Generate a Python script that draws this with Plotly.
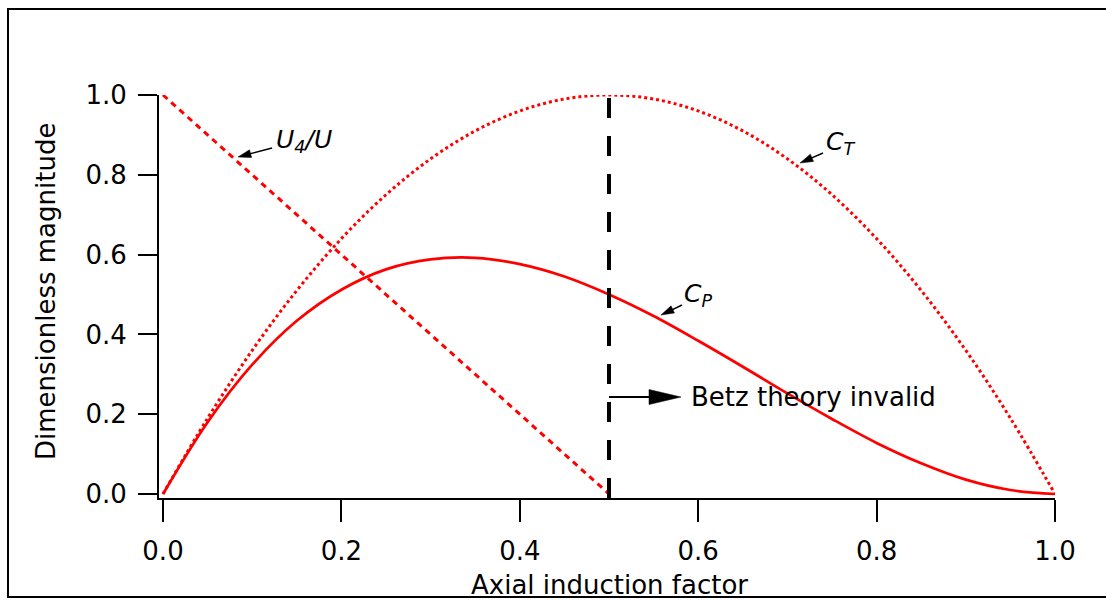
import math
import plotly.graph_objects as go

# ---- data ----
induction_a = [0.0, 0.05, 0.10, 0.15, 0.20, 0.25, 0.30, 0.35, 0.40, 0.45, 0.50,
               0.55, 0.60, 0.65, 0.70, 0.75, 0.80, 0.85, 0.90, 0.95, 1.0]
cp_values = [0.0, 0.18, 0.324, 0.434, 0.512, 0.563, 0.588, 0.592, 0.576, 0.545, 0.5,
             0.446, 0.384, 0.319, 0.252, 0.188, 0.128, 0.077, 0.036, 0.01, 0.0]
ct_values = [0.0, 0.19, 0.36, 0.51, 0.64, 0.75, 0.84, 0.91, 0.96, 0.99, 1.0,
             0.99, 0.96, 0.91, 0.84, 0.75, 0.64, 0.51, 0.36, 0.19, 0.0]
u4_a = [0.0, 0.5]
u4_values = [1.0, 0.0]
betz_limit_a = 0.5
x_ticks = [0.0, 0.2, 0.4, 0.6, 0.8, 1.0]
y_ticks = [0.0, 0.2, 0.4, 0.6, 0.8, 1.0]
x_tick_labels = ["0.0", "0.2", "0.4", "0.6", "0.8", "1.0"]
y_tick_labels = ["0.0", "0.2", "0.4", "0.6", "0.8", "1.0"]

# ---- layout geometry (pixels) ----
W, H = 1106, 600
PL, PR, PT, PB = 159, 1055, 95, 498      # plot area edges
X0PX, X1PX = 163, 1055                   # pixel of a=0 and a=1
Y0PX, Y1PX = 494, 95                     # pixel of 0 and 1
XS = (X1PX - X0PX)
YS = (Y0PX - Y1PX)


def px2x(px):
    return (px - X0PX) / XS


def py2y(py):
    return (Y0PX - py) / YS


def px2paper(px):
    return (px - PL) / (PR - PL)


def py2paper(py):
    return (PB - py) / (PB - PT)


FONT = "DejaVu Sans"
RED = "#ff0000"

fig = go.Figure()
fig.add_trace(go.Scatter(x=induction_a, y=ct_values, mode="lines",
                         line=dict(color=RED, width=3, dash="dot", shape="spline"),
                         name="C_T", showlegend=False))
fig.add_trace(go.Scatter(x=induction_a, y=cp_values, mode="lines",
                         line=dict(color=RED, width=2.7, shape="spline"),
                         name="C_P", showlegend=False))
fig.add_trace(go.Scatter(x=u4_a, y=u4_values, mode="lines",
                         line=dict(color=RED, width=3, dash="6px,5px"),
                         name="U4/U", showlegend=False))

shapes = []


def arrow(tail, tip, head_len, head_half, width):
    """Arrow drawn in pixel space, converted to data coordinates."""
    dx, dy = tip[0] - tail[0], tip[1] - tail[1]
    L = math.hypot(dx, dy)
    ux, uy = dx / L, dy / L
    bx, by = tip[0] - ux * head_len, tip[1] - uy * head_len
    nx, ny = -uy, ux
    shapes.append(dict(type="line", xref="x", yref="y",
                       x0=px2x(tail[0]), y0=py2y(tail[1]),
                       x1=px2x(bx + ux * 2), y1=py2y(by + uy * 2),
                       line=dict(color="black", width=width)))
    p1 = (bx + nx * head_half, by + ny * head_half)
    p2 = (bx - nx * head_half, by - ny * head_half)
    path = (f"M {px2x(tip[0])},{py2y(tip[1])} L {px2x(p1[0])},{py2y(p1[1])} "
            f"L {px2x(p2[0])},{py2y(p2[1])} Z")
    shapes.append(dict(type="path", xref="x", yref="y", path=path,
                       fillcolor="black", line=dict(color="black", width=0.5)))


# Betz limit vertical dashed line
shapes.append(dict(type="line", xref="x", yref="y", x0=betz_limit_a, x1=betz_limit_a,
                   y0=py2y(PB), y1=1.0, line=dict(color="black", width=4, dash="20px,18px")))
# Betz arrow
arrow((X0PX + betz_limit_a * XS, 397), (681, 397), 32, 7.5, 2)
# small pointer arrows
arrow((272, 148), (238, 157), 13, 4, 1.4)
arrow((823, 153), (800, 163), 13, 4, 1.4)
arrow((682, 305), (661, 315), 13, 4, 1.4)

# outer frame
shapes.append(dict(type="rect", xref="paper", yref="paper", layer="below",
                   x0=px2paper(8), x1=px2paper(1112), y0=py2paper(597), y1=py2paper(9),
                   line=dict(color="black", width=2)))

annotations = []
label_font = dict(family=FONT, size=25, color="black")
annotations.append(dict(x=px2x(274), y=py2y(141), xref="x", yref="y", xanchor="left",
                        yanchor="middle", showarrow=False,
                        text="<i>U<sub>4</sub>/U</i>", font=label_font))
annotations.append(dict(x=px2x(824), y=py2y(143), xref="x", yref="y", xanchor="left",
                        yanchor="middle", showarrow=False,
                        text="<i>C<sub>T</sub></i>", font=label_font))
annotations.append(dict(x=px2x(682), y=py2y(295), xref="x", yref="y", xanchor="left",
                        yanchor="middle", showarrow=False,
                        text="<i>C<sub>P</sub></i>", font=label_font))
annotations.append(dict(x=px2x(689), y=py2y(397), xref="x", yref="y", xanchor="left",
                        yanchor="middle", showarrow=False,
                        text="Betz theory invalid", font=dict(family=FONT, size=26, color="black")))
# axis titles
annotations.append(dict(x=px2paper(609), y=py2paper(585), xref="paper", yref="paper",
                        xanchor="center", yanchor="middle", showarrow=False,
                        text="Axial induction factor", font=dict(family=FONT, size=26, color="black")))
annotations.append(dict(x=px2paper(46), y=py2paper(292), xref="paper", yref="paper",
                        xanchor="center", yanchor="middle", showarrow=False, textangle=-90,
                        text="Dimensionless magnitude", font=dict(family=FONT, size=26, color="black")))

axis_common = dict(showline=True, linecolor="black", linewidth=2, ticks="outside",
                   tickwidth=2, tickcolor="black", showgrid=False, zeroline=False,
                   tickfont=dict(family=FONT, size=26, color="black"), mirror=False)

fig.update_layout(
    width=W, height=H, autosize=False,
    margin=dict(l=PL, r=W - PR, t=PT, b=H - PB, pad=0),
    plot_bgcolor="white", paper_bgcolor="white",
    xaxis=dict(range=[px2x(PL), 1.0], tickvals=x_ticks, ticktext=x_tick_labels,
               ticklen=22, ticklabelstandoff=7, **axis_common),
    yaxis=dict(range=[py2y(PB), 1.0], tickvals=y_ticks, ticktext=y_tick_labels,
               ticklen=19, ticklabelstandoff=6, **axis_common),
    shapes=shapes, annotations=annotations, showlegend=False,
)

fig.write_html("out.html", config={"displayModeBar": False},
               post_script="document.body.style.margin='0';document.body.style.padding='0';")
